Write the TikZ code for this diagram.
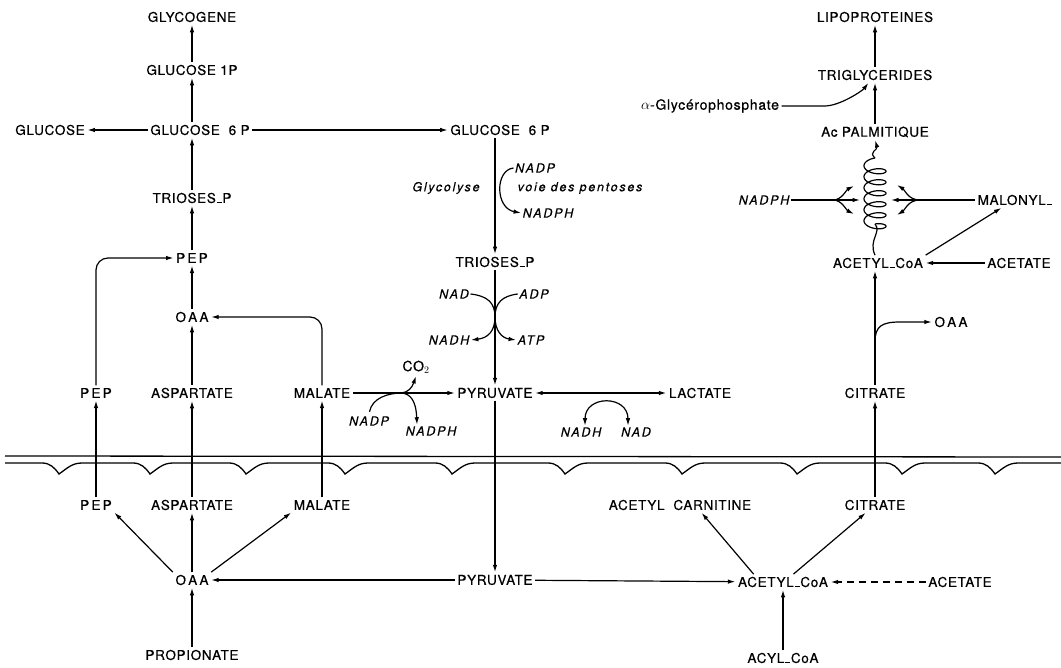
\documentclass[tikz,border=0pt]{standalone}
\usepackage{fontspec}
\setmainfont{TeX Gyre Heros}[LetterSpace=5,FakeBold=0.6]
\newfontfamily\coffont{TeX Gyre Heros}[LetterSpace=14,FakeBold=0.4]
\newcommand{\bdash}{\kern0.8pt\rule{5pt}{1.2pt}\kern0.8pt}
\usetikzlibrary{arrows.meta}
\begin{document}
\begin{tikzpicture}[
	x=1pt, y=-1pt,
	>={Latex[length=7.5pt,width=4.5pt]},
	chem/.style={
		inner sep=2.5pt,
		font=\fontsize{13.5}{15}\selectfont
	},
	cofac/.style={
		inner sep=1.5pt,
		font=\coffont\itshape\fontsize{12.5}{14}\selectfont
	},
	ArrowR/.style={% thin reaction arrows
		line width=1.2pt,
	},
	Membr/.style={
		line width=1.3pt,
	},
]
	\useasboundingbox (0,0) rectangle (1061,668);

	% cytoplasm, left
	\node [chem] (glycogene) at (192,17) {GLYCOGENE};
	\node [chem] (g1p) at (192,70) {GLUCOSE 1P};
	\node [chem] (g6pL) at (200,130) {GLUCOSE\ \ 6\ P};
	\node [chem] (glucose) at (50,130) {GLUCOSE};
	\node [chem] (triosesL) at (192,198) {TRIOSES\bdash P};
	\node [chem] (pepL) at (192,258) {P\,E\,P};
	\node [chem] (oaaL) at (192,317) {O\,A\,A};
	\node [chem] (pep1) at (96,393) {P\,E\,P};
	\node [chem] (asp1) at (192,393) {ASPARTATE};
	\node [chem] (mal1) at (322,393) {MALATE};

	% cytoplasm, middle
	\node [chem] (g6pR) at (500,130) {GLUCOSE\ \ 6\ P};
	\node [cofac] (glycolyse) at (446,188) {Glycolyse};
	\node [cofac] (pentoses) at (580,188) {voie des pentoses};
	\node [cofac] (nadp1) at (535,168) {NADP};
	\node [cofac] (nadph1) at (548,213) {NADPH};
	\node [chem] (triosesR) at (495,262) {TRIOSES\bdash P};
	\node [cofac] (nad1) at (454,294) {NAD};
	\node [cofac] (adp) at (534,294) {ADP};
	\node [cofac] (nadh1) at (449,340) {NADH};
	\node [cofac] (atp) at (531,340) {ATP};
	\node [chem] (pyr1) at (495,393) {PYRUVATE};
	\node [chem,font=\fontsize{14}{16}\selectfont] (co2) at (416,367) {CO$_2$};
	\node [cofac] (nadp2) at (369,421) {NADP};
	\node [cofac] (nadph2) at (431,431) {NADPH};
	\node [chem] (lactate) at (700,393) {LACTATE};
	\node [cofac] (nadh2) at (581,432) {NADH};
	\node [cofac] (nad2) at (636,432) {NAD};

	% cytoplasm, right
	\node [chem] (lipo) at (875,17) {LIPOPROTEINES};
	\node [chem] (trig) at (875,75) {TRIGLYCERIDES};
	\node [chem] (acpalm) at (875,132) {Ac PALMITIQUE};
	\node [chem,font=\fontsize{14}{16}\selectfont] (glyP) at (710,106) {$\alpha$-Glycérophosphate};
	\node [cofac] (nadphR) at (764,200) {NADPH};
	\node [chem] (malonyl) at (1015,200) {MALONYL\bdash};
	\node [chem] (acetyl1) at (878,263) {ACETYL\bdash CoA};
	\node [chem] (acetate1) at (1019,263) {ACETATE};
	\node [chem] (oaaR) at (951,322) {O\,A\,A};
	\node [chem] (citrate1) at (875,393) {CITRATE};

	% mitochondrion
	\node [chem] (pep2) at (96,505) {P\,E\,P};
	\node [chem] (asp2) at (192,505) {ASPARTATE};
	\node [chem] (mal2) at (322,505) {MALATE};
	\node [chem] (carnitine) at (680,505) {ACETYL\ \ CARNITINE};
	\node [chem] (citrate2) at (875,505) {CITRATE};
	\node [chem] (oaa2) at (192,580) {O\,A\,A};
	\node [chem] (pyr2) at (495,580) {PYRUVATE};
	\node [chem] (acetyl2) at (783,582) {ACETYL\bdash CoA};
	\node [chem] (acetate2) at (960,582) {ACETATE};
	\node [chem] (prop) at (192,655) {PROPIONATE};
	\node [chem] (acyl) at (783,658) {ACYL\bdash CoA};

	% membrane
	\draw [Membr] (5,456) -- (1061,457);
	\draw [Membr] (5,463) foreach \d in {59,150,246,345,452,565,682,797,902,995} {
		-- (\d-17,463) to[out=0,in=125] (\d,474) to[out=35,in=180] (\d+23,463)
	} -- (1061,463);

	% left arrows
	\draw [->,ArrowR] (g1p) -- (glycogene);
	\draw [->,ArrowR] (g1p |- g6pL.north) -- (g1p);
	\draw [->,ArrowR] (g6pL) -- (glucose);
	\draw [->,ArrowR] (g6pL) -- (g6pR);
	\draw [->,ArrowR] (triosesL) -- (triosesL |- g6pL.south);
	\draw [->,ArrowR] (pepL) -- (triosesL);
	\draw [->,ArrowR] (oaaL) -- (pepL);
	\draw [->,ArrowR] (asp1) -- (oaaL);
	\draw [->,ArrowR,rounded corners=12pt] (pep1) |- (pepL);
	\draw [->,ArrowR,rounded corners=12pt] (mal1) |- (oaaL);
	\draw [->,ArrowR] (pep2) -- (pep1);
	\draw [->,ArrowR] (asp2) -- (asp1);
	\draw [->,ArrowR] (mal2) -- (mal1);
	\draw [->,ArrowR] (oaa2.north west) -- (pep2.south east);
	\draw [->,ArrowR] (oaa2) -- (asp2);
	\draw [->,ArrowR] (oaa2.north east) -- (mal2.south west);
	\draw [->,ArrowR] (prop) -- (oaa2);
	\draw [->,ArrowR] (pyr2) -- (oaa2);
	\draw [->,ArrowR] (pyr2) -- (acetyl2);

	% glycolysis
	\draw [->,ArrowR] (g6pR.south -| triosesR) -- (triosesR);
	\draw [->,ArrowR] (nadp1.west) .. controls (495,170) and (495,208) .. (nadph1.west);
	\draw [->,ArrowR] (triosesR) -- (pyr1);
	\draw [->,ArrowR] (pyr1) -- (pyr2);
	\coordinate (xing) at (495,317);
	\draw [ArrowR] (nad1.east) .. controls (488,296) and (495,303) .. (xing);
	\draw [ArrowR] (adp.west) .. controls (502,296) and (495,303) .. (xing);
	\draw [->,ArrowR] (xing) .. controls (495,331) and (488,338) .. (nadh1.east);
	\draw [->,ArrowR] (xing) .. controls (495,331) and (502,338) .. (atp.west);

	% malic enzyme, lactate
	\coordinate (split) at (402,393);
	\draw [->,ArrowR] (mal1) -- (pyr1);
	\draw [->,ArrowR] (split) .. controls (408,392) and (412,388) .. (co2.south);
	\draw [ArrowR,shorten <=3pt] (nadp2.north) .. controls (372,398) and (388,393) .. (split);
	\draw [->,ArrowR] (split) .. controls (410,394) and (416,400) .. ([xshift=-14pt]nadph2.north);
	\draw [<->,ArrowR] (pyr1) -- (lactate);
	\draw [<->,ArrowR] ([xshift=4pt]nadh2.north) .. controls +(0,-31) and +(0,-31) .. ([xshift=-8pt]nad2.north);

	% lipogenesis
	\draw [->,ArrowR] (trig) -- (lipo);
	\draw [->,ArrowR] (acpalm) -- (trig);
	\draw [->,ArrowR] (glyP.east) -- ++(43,0) .. controls +(15,0) and +(-6,8) .. (trig.-130);
	\coordinate (coilT) at (875,158);
	\coordinate (coilB) at (875,224);
	\draw [ArrowR] plot [smooth, domain=0:2160, samples=180, variable=\t]
		({875-11*sin(\t)}, {158+\t/360*11+5-5*cos(\t)});
	\draw [->,ArrowR] (coilT) .. controls (868,152) and (878,150) .. (acpalm.south);
	\draw [ArrowR] (coilB) .. controls (882,232) and (868,240) .. (coilB |- acetyl1.north);
	\coordinate (fanL) at (833,200);
	\draw [ArrowR] (nadphR) -- (fanL);
	\draw [->,ArrowR] (fanL) -- (860,200);
	\draw [->,ArrowR] (fanL) .. controls (842,200) and (846,190) .. (854,186);
	\draw [->,ArrowR] (fanL) .. controls (842,200) and (846,210) .. (854,214);
	\coordinate (fanR) at (920,200);
	\draw [ArrowR] (malonyl) -- (fanR);
	\draw [->,ArrowR] (fanR) -- (891,200);
	\draw [->,ArrowR] (fanR) .. controls (908,200) and (905,190) .. (897,185);
	\draw [->,ArrowR] (fanR) .. controls (908,200) and (905,210) .. (897,215);
	\draw [->,ArrowR] (acetate1) -- (acetyl1);
	\draw [->,ArrowR] (acetyl1.north east) -- (malonyl.-150);
	\draw [->,ArrowR] (citrate1) -- (citrate1 |- acetyl1.south);
	\coordinate (oaaFork) at (875,342);
	\draw [->,ArrowR] (oaaFork) .. controls (875,326) and (882,322) .. (900,322) -- (oaaR.west);
	\draw [->,ArrowR] (citrate2) -- (citrate1);

	% acetyl-CoA in the mitochondrion
	\draw [->,ArrowR] (acetyl2.165) -- (carnitine.-20);
	\draw [->,ArrowR] (acetyl2.37) -- (citrate2.-140);
	\draw [->,ArrowR] (acyl) -- (acetyl2);
	\draw [->,ArrowR,dash pattern=on 7pt off 5pt] (acetate2) -- (acetyl2);
\end{tikzpicture}
\end{document}
